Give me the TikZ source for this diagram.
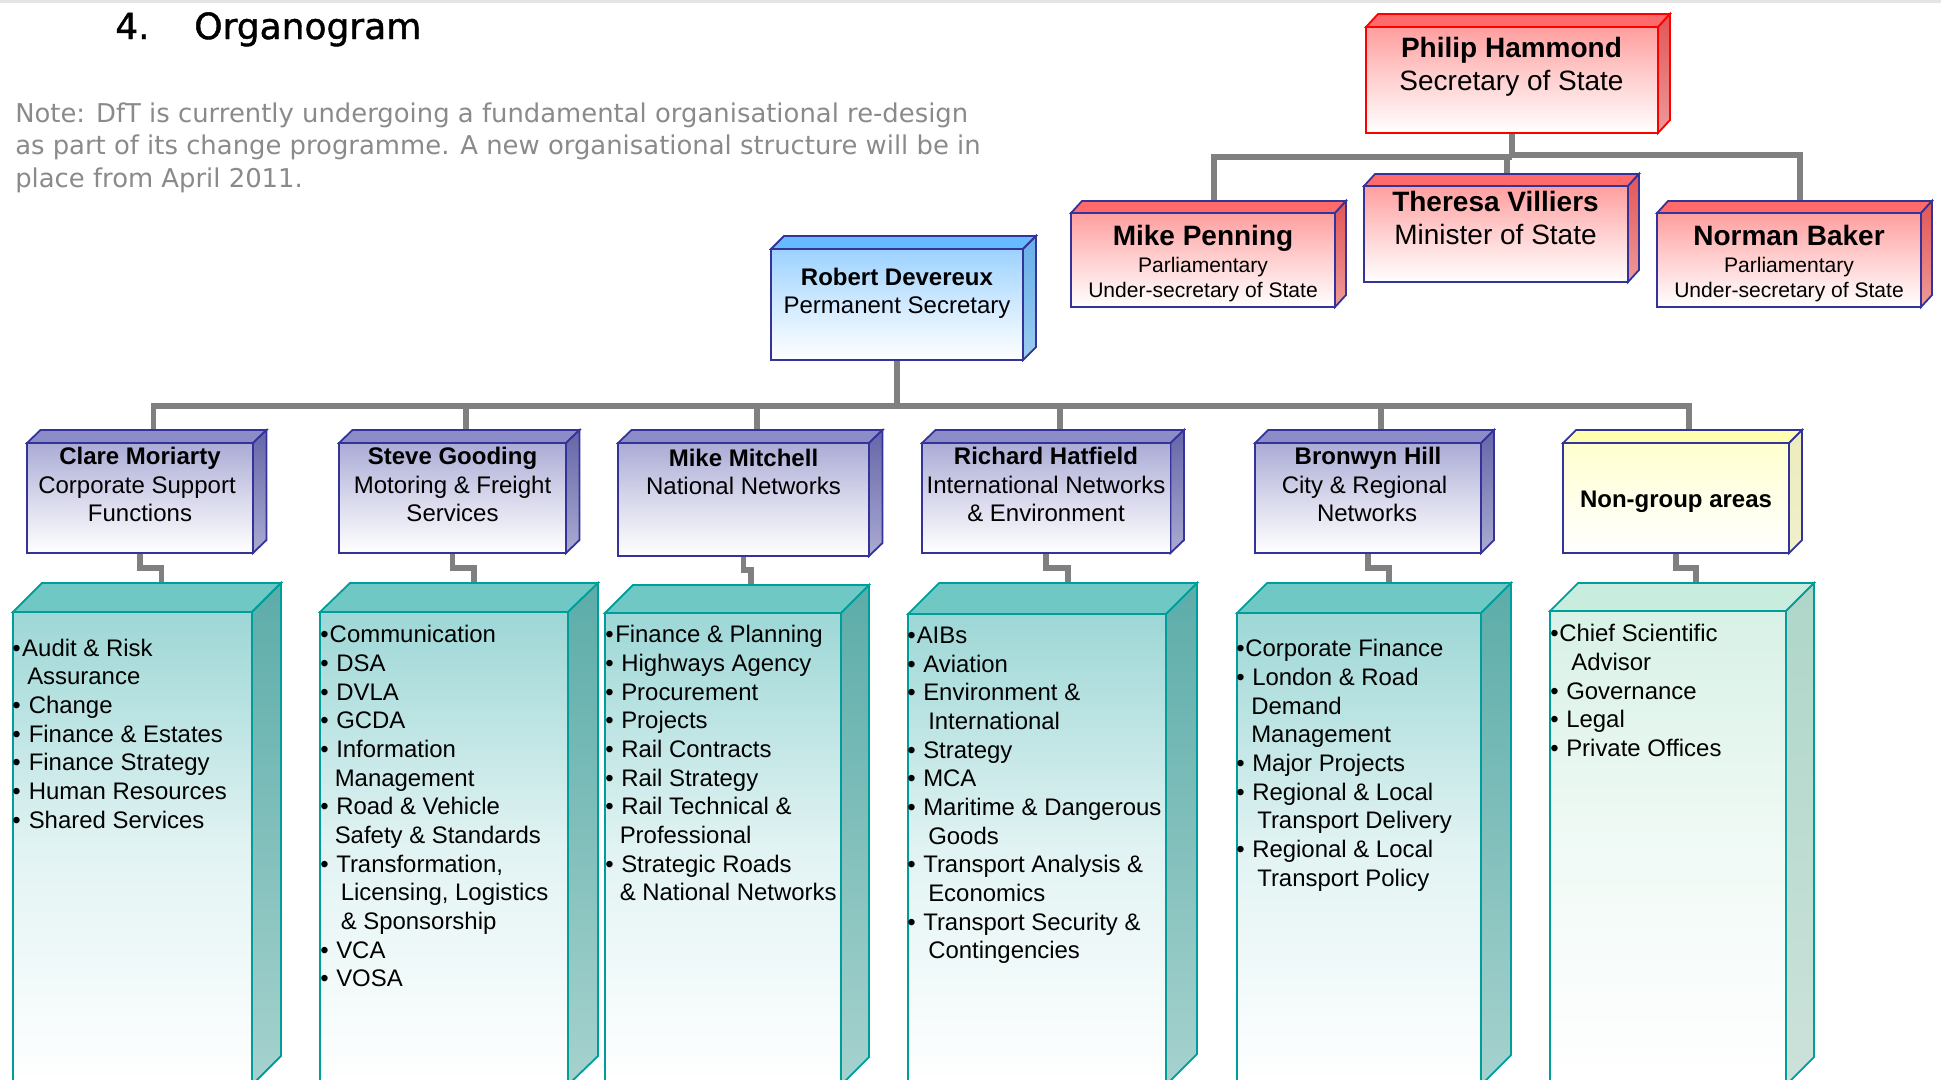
\documentclass[tikz,border=0pt]{standalone}
\usepackage{fontspec}
\setmainfont{Liberation Sans}
\newfontfamily\headfont{DejaVu Sans}
\newfontfamily\titlefont[FakeBold=1.2]{DejaVu Sans}
\usetikzlibrary{backgrounds}
\newdimen\pxu \pxu=.75pt
\definecolor{indigo}{HTML}{333399}
\definecolor{tealedge}{HTML}{009E9A}
\definecolor{rf}{HTML}{FF9E9E}\definecolor{rt}{HTML}{FF6A6A}\definecolor{rsa}{HTML}{E25555}\definecolor{rsb}{HTML}{EE9A9A}
\definecolor{bf}{HTML}{9CD2FF}\definecolor{bt}{HTML}{66BBFF}\definecolor{bsa}{HTML}{66AEE8}\definecolor{bsb}{HTML}{9CCCF0}
\definecolor{pf}{HTML}{ABABD6}\definecolor{pt}{HTML}{8C8CC8}\definecolor{psa}{HTML}{6565A8}\definecolor{psb}{HTML}{ABABD2}
\definecolor{yf}{HTML}{FFFFCF}\definecolor{yt}{HTML}{FFFFB0}\definecolor{ysa}{HTML}{ECECBC}\definecolor{ysb}{HTML}{F0F0CC}
\definecolor{tf}{HTML}{9DD7D6}\definecolor{tt}{HTML}{70C8C5}\definecolor{tsa}{HTML}{5CACA9}\definecolor{tsb}{HTML}{A6D2CE}
\definecolor{lf}{HTML}{D8F1E6}\definecolor{lt}{HTML}{C8ECDD}\definecolor{lsa}{HTML}{AED6C8}\definecolor{lsb}{HTML}{CCE2DB}
\definecolor{conngray}{HTML}{808080}
\definecolor{notegray}{HTML}{8A8A8A}
\tikzset{
  face/.style={line width=1.35pt,line join=miter},
  red front/.style={face,draw=red,top color=rf,bottom color=white,middle color=rf!47!white},
  red top/.style={face,draw=red,fill=rt},
  red side/.style={face,draw=red,top color=rsa,bottom color=rsb},
  rose front/.style={face,draw=indigo,top color=rf,bottom color=white,middle color=rf!47!white},
  rose top/.style={face,draw=indigo,fill=rt},
  rose side/.style={face,draw=indigo,top color=rsa,bottom color=rsb},
  blue front/.style={face,draw=indigo,top color=bf,bottom color=white,middle color=bf!47!white},
  blue top/.style={face,draw=indigo,fill=bt},
  blue side/.style={face,draw=indigo,top color=bsa,bottom color=bsb},
  purple front/.style={face,draw=indigo,top color=pf,bottom color=white,middle color=pf!47!white},
  purple top/.style={face,draw=indigo,fill=pt},
  purple side/.style={face,draw=indigo,top color=psa,bottom color=psb},
  yellow front/.style={face,draw=indigo,top color=yf,bottom color=white,middle color=yf!47!white},
  yellow top/.style={face,draw=indigo,fill=yt},
  yellow side/.style={face,draw=indigo,top color=ysa,bottom color=ysb},
  teal front/.style={face,draw=tealedge,top color=tf,bottom color=white,middle color=tf!30!white},
  teal top/.style={face,draw=tealedge,fill=tt},
  teal side/.style={face,draw=tealedge,top color=tsa,bottom color=tsb},
  mint front/.style={face,draw=tealedge,top color=lf,bottom color=white,middle color=lf!38!white},
  mint top/.style={face,draw=tealedge,fill=lt},
  mint side/.style={face,draw=tealedge,top color=lsa,bottom color=lsb},
  conn/.style={draw=conngray,line width=4.4pt,line join=miter},
  name big/.style={anchor=base,inner sep=0pt,font=\bfseries\fontsize{21}{21}\selectfont},
  role big/.style={anchor=base,inner sep=0pt,font=\fontsize{21}{21}\selectfont},
  role small/.style={anchor=base,inner sep=0pt,font=\fontsize{15.8}{15.8}\selectfont},
  name mid/.style={anchor=base,inner sep=0pt,font=\bfseries\fontsize{18}{18}\selectfont},
  role mid/.style={anchor=base,inner sep=0pt,font=\fontsize{18}{18}\selectfont},
  listtext/.style={anchor=north west,inner sep=0pt,align=left,font=\fontsize{17.95}{21.5}\selectfont},
  notetext/.style={anchor=base west,inner sep=0pt,text=notegray,font=\headfont\fontsize{19.4}{19.4}\selectfont},
  headtext/.style={anchor=base west,inner sep=0pt,font=\titlefont\fontsize{27}{27}\selectfont},
}
% palette, name, x0, y0, x1, y1, dx, dy
\newcommand\threed[8]{%
  \pgfmathsetmacro\boxw{(#5-#3)*.75}%
  \pgfmathsetmacro\boxh{(#6-#4)*.75}%
  \path[#1 top] (#3,#4) -- (#3+#7,#4-#8) -- (#5+#7,#4-#8) -- (#5,#4) -- cycle;
  \path[#1 side] (#5,#4) -- (#5+#7,#4-#8) -- (#5+#7,#6-#8) -- (#5,#6) -- cycle;
  \node[#1 front,inner sep=0pt,outer sep=0pt,anchor=north west,minimum width=\boxw pt,minimum height=\boxh pt] (#2) at (#3,#4) {};
  \coordinate (#2-t) at ({(#3+#5)/2+#7},#4-#8);
}
\newcommand\bu[2]{\makebox[#1\pxu][l]{•}#2}
\newcommand\ct[2]{\hspace*{#1\pxu}#2}
\newcommand\firstl{\rule{0pt}{20\pxu}}
\begin{document}
\begin{tikzpicture}[x=.75pt,y=-.75pt]
\useasboundingbox (0,0) rectangle (1941,1079);
\clip (0,0) rectangle (1941,1079);
\fill[gray!20] (0,0) rectangle (1941,3);

% Boxes
\threed{red}{philip}{1366}{27}{1658}{133}{12}{13}
\threed{rose}{penning}{1071}{213}{1335}{307}{11}{12}
\threed{rose}{villiers}{1364}{186}{1628}{282}{11}{12}
\threed{rose}{baker}{1657}{213}{1921}{307}{11}{12}
\threed{blue}{devereux}{771}{249}{1023}{360}{13}{13}
\threed{purple}{moriarty}{27}{443}{253}{553}{13.5}{13}
\threed{purple}{gooding}{339}{443}{566}{553}{13.5}{13}
\threed{purple}{mitchell}{618}{443}{869}{556}{13.5}{13}
\threed{purple}{hatfield}{922}{443}{1170.5}{553}{13.5}{13}
\threed{purple}{hill}{1255}{443}{1481}{553}{13}{13}
\threed{yellow}{nongroup}{1563}{443}{1789}{553}{13}{13}
\threed{teal}{lista}{13}{612}{252}{1085}{29}{29}
\threed{teal}{listb}{320}{612}{568}{1085}{30}{29}
\threed{teal}{listc}{605}{613}{841}{1085}{28}{28}
\threed{teal}{listd}{908}{614}{1166}{1085}{31}{31}
\threed{teal}{liste}{1237}{613}{1481}{1085}{30}{30}
\threed{mint}{listf}{1550}{611}{1786}{1085}{28}{28}

% Connectors
\coordinate (busPL) at (1512,157);
\coordinate (busPR) at (1512,155);
\coordinate (busM) at (897,406);
\begin{pgfonlayer}{background}
  \draw[conn] (philip.south) -- (busPL);
  \draw[conn] (penning-t) |- (busPL);
  \draw[conn] (baker-t) |- (busPR);
  \draw[conn] (villiers-t) -- (villiers-t |- busPR);
  \draw[conn] (devereux.south) -- (busM);
  \draw[conn] (moriarty-t) |- (busM) -| (nongroup-t);
  \draw[conn] (gooding-t) -- (gooding-t |- busM);
  \draw[conn] (mitchell-t) -- (mitchell-t |- busM);
  \draw[conn] (hatfield-t) -- (hatfield-t |- busM);
  \draw[conn] (hill-t) -- (hill-t |- busM);
  \draw[conn] (moriarty.south) -- ++(0,15) -| (lista-t);
  \draw[conn] (gooding.south) -- ++(0,15) -| (listb-t);
  \draw[conn] (mitchell.south) -- ++(0,14) -| (listc-t);
  \draw[conn] (hatfield.south) -- ++(0,15) -| (listd-t);
  \draw[conn] (hill.south) -- ++(0,15) -| (liste-t);
  \draw[conn] (nongroup.south) -- ++(0,15) -| (listf-t);
\end{pgfonlayer}

% Heading and note
\node[headtext] (num) at (115,39) {4.};
\node[headtext] (head) at (194,39) {Organogram};
\node[notetext] (n1) at (15,122) {Note: DfT is currently undergoing a fundamental organisational re-design};
\node[notetext] (n2) at (15,154) {as part of its change programme. A new organisational structure will be in};
\node[notetext] (n3) at (15,187) {place from April 2011.};

% Ministers
\node[name big] (t1a) at (1511.5,57) {Philip Hammond};
\node[role big] (t1b) at (1511.5,90) {Secretary of State};
\node[name big] (t2a) at (1203,245) {Mike Penning};
\node[role small] (t2b) at (1203,272) {Parliamentary};
\node[role small] (t2c) at (1203,297) {Under-secretary of State};
\node[name big] (t3a) at (1495.5,211) {Theresa Villiers};
\node[role big] (t3b) at (1495.5,244) {Minister of State};
\node[name big] (t4a) at (1789,245) {Norman Baker};
\node[role small] (t4b) at (1789,272) {Parliamentary};
\node[role small] (t4c) at (1789,297) {Under-secretary of State};

% Directors
\node[name mid] (t5a) at (897,285) {Robert Devereux};
\node[role mid] (t5b) at (897,313) {Permanent Secretary};
\node[name mid] (t6a) at (140,464) {Clare Moriarty};
\node[role mid] (t6b) at (137,493) {Corporate Support};
\node[role mid] (t6c) at (140,521) {Functions};
\node[name mid] (t7a) at (452.5,464) {Steve Gooding};
\node[role mid] (t7b) at (452.5,493) {Motoring \& Freight};
\node[role mid] (t7c) at (452.5,521) {Services};
\node[name mid] (t8a) at (743.5,466) {Mike Mitchell};
\node[role mid] (t8b) at (743.5,494) {National Networks};
\node[name mid] (t9a) at (1046,464) {Richard Hatfield};
\node[role mid] (t9b) at (1046,493) {International Networks};
\node[role mid] (t9c) at (1046,521) {\& Environment};
\node[name mid] (t10a) at (1368,464) {Bronwyn Hill};
\node[role mid] (t10b) at (1364.5,493) {City \& Regional};
\node[role mid] (t10c) at (1367,521) {Networks};
\node[name mid] (t11a) at (1676,507) {Non-group areas};

% Lists
\node[listtext] (la) at (12,636) {\firstl\bu{10}{Audit \& Risk}\\
 \ct{15}{Assurance}\\ \bu{16.5}{Change}\\ \bu{16.5}{Finance \& Estates}\\ \bu{16.5}{Finance Strategy}\\
 \bu{16.5}{Human Resources}\\ \bu{16.5}{Shared Services}};
\node[listtext] (lb) at (320,622.7) {\firstl\bu{9.5}{Communication}\\
 \bu{16}{DSA}\\ \bu{16}{DVLA}\\ \bu{16}{GCDA}\\ \bu{16}{Information}\\ \ct{14.5}{Management}\\
 \bu{16}{Road \& Vehicle}\\ \ct{14.5}{Safety \& Standards}\\ \bu{16}{Transformation,}\\
 \ct{20.5}{Licensing, Logistics}\\ \ct{20.5}{\& Sponsorship}\\ \bu{16}{VCA}\\ \bu{16}{VOSA}};
\node[listtext] (lc) at (605,622.7) {\firstl\bu{10}{Finance \& Planning}\\
 \bu{16}{Highways Agency}\\ \bu{16}{Procurement}\\ \bu{16}{Projects}\\ \bu{16}{Rail Contracts}\\
 \bu{16}{Rail Strategy}\\ \bu{16}{Rail Technical \&}\\ \ct{14.5}{Professional}\\
 \bu{16}{Strategic Roads}\\ \ct{14.5}{\& National Networks}};
\node[listtext] (ld) at (907,623.3) {\firstl\bu{9.5}{AIBs}\\
 \bu{16}{Aviation}\\ \bu{16}{Environment \&}\\ \ct{21}{International}\\ \bu{16}{Strategy}\\ \bu{16}{MCA}\\
 \bu{16}{Maritime \& Dangerous}\\ \ct{21}{Goods}\\ \bu{16}{Transport Analysis \&}\\ \ct{21}{Economics}\\
 \bu{16}{Transport Security \&}\\ \ct{21}{Contingencies}};
\node[listtext] (le) at (1236,636.5) {\firstl\bu{9}{Corporate Finance}\\
 \bu{16}{London \& Road}\\ \ct{15}{Demand}\\ \ct{15}{Management}\\ \bu{16}{Major Projects}\\
 \bu{16}{Regional \& Local}\\ \ct{21}{Transport Delivery}\\ \bu{16}{Regional \& Local}\\ \ct{21}{Transport Policy}};
\node[listtext] (lf) at (1550,621.5) {\firstl\bu{9}{Chief Scientific}\\
 \ct{21}{Advisor}\\ \bu{16}{Governance}\\ \bu{16}{Legal}\\ \bu{16}{Private Offices}};
\end{tikzpicture}
\end{document}
